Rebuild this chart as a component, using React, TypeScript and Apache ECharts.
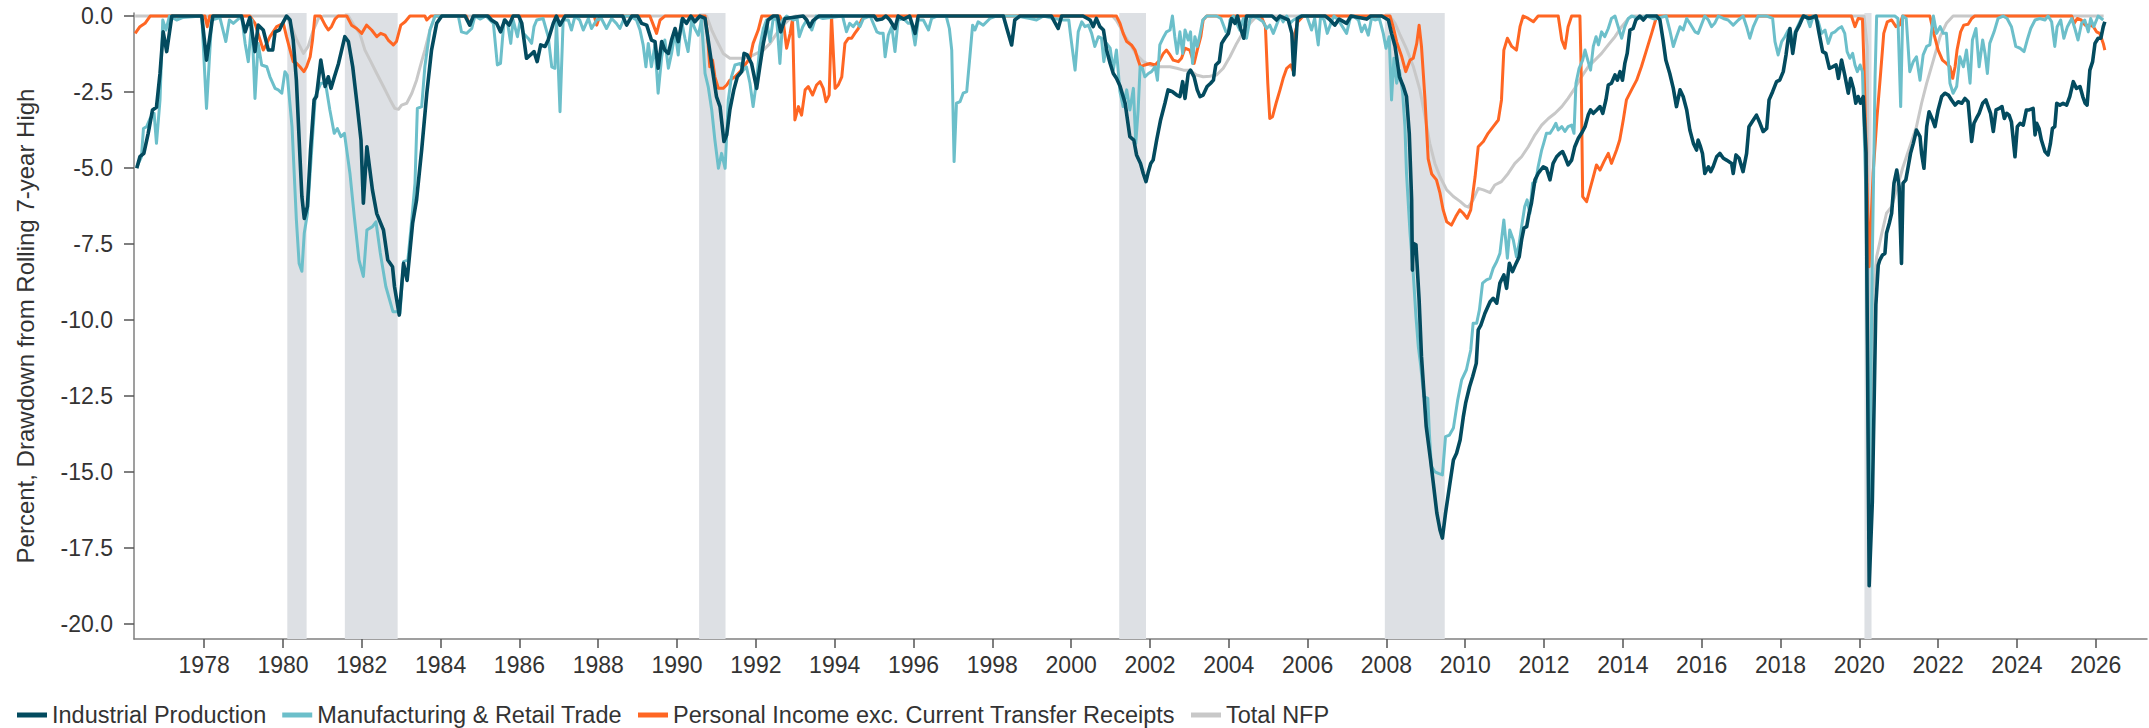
import React, { useEffect, useRef } from "react";
import * as echarts from "echarts";

// ---- Data: [decimal year, percent drawdown from rolling 7-year high] ----
const industrialProduction: [number, number][] = [
  [1976.29,-5.01],[1976.37,-4.63],[1976.47,-4.52],[1976.58,-3.86],[1976.69,-3.09],[1976.79,-3.0],[1976.88,-1.89],[1976.96,-0.52],[1977.05,-1.17],[1977.18,0],
  [1977.94,0],[1978.06,-1.45],[1978.22,0],[1978.95,0],[1979.04,-0.52],[1979.16,-0.05],[1979.29,-1.17],[1979.37,-0.3],[1979.5,-0.46],[1979.63,-1.12],
  [1979.74,-1.12],[1979.8,-0.52],[1979.91,-0.46],[1979.99,-0.24],[1980.09,0],[1980.18,-0.13],[1980.26,-0.79],[1980.34,-2.1],[1980.43,-4.6],[1980.48,-5.94],
  [1980.54,-6.66],[1980.62,-6.27],[1980.7,-4.4],[1980.79,-2.76],[1980.85,-2.65],[1980.96,-1.45],[1981.07,-2.32],[1981.15,-2.0],[1981.22,-2.38],[1981.3,-2.02],
  [1981.41,-1.56],[1981.57,-0.68],[1981.66,-0.84],[1981.77,-1.67],[1981.88,-2.9],[1981.98,-4.08],[1982.04,-6.16],[1982.13,-4.3],[1982.27,-5.72],[1982.38,-6.5],
  [1982.55,-7.04],[1982.66,-8.03],[1982.78,-8.25],[1982.83,-8.9],[1982.95,-9.84],[1983.06,-8.14],[1983.15,-8.7],[1983.29,-6.82],[1983.39,-6.05],[1983.52,-4.4],
  [1983.65,-2.54],[1983.77,-1.12],[1983.9,-0.24],[1984.03,0],[1984.62,0],[1984.74,-0.3],[1984.83,0],[1985.2,0],[1985.29,-0.13],[1985.42,-0.24],
  [1985.52,-0.52],[1985.63,-0.13],[1985.74,-0.3],[1985.84,0],[1985.98,0],[1986.06,-0.24],[1986.18,-1.39],[1986.28,-1.28],[1986.37,-1.17],[1986.45,-1.5],
  [1986.54,-0.95],[1986.65,-1.0],[1986.73,-0.79],[1986.86,-0.24],[1986.94,0],[1987.03,-0.3],[1987.16,0],[1988.62,0],[1988.72,-0.3],[1988.85,0],
  [1989.0,0],[1989.1,-0.24],[1989.23,-0.3],[1989.35,-0.79],[1989.44,-0.84],[1989.52,-1.72],[1989.61,-0.84],[1989.69,-1.12],[1989.78,-1.23],[1989.86,-0.79],
  [1989.95,-0.41],[1990.03,-0.84],[1990.14,-0.08],[1990.24,-0.24],[1990.35,0],[1990.45,-0.19],[1990.58,0],[1990.71,-0.08],[1990.79,-0.79],[1990.9,-1.78],
  [1991.0,-2.65],[1991.09,-2.98],[1991.19,-4.13],[1991.26,-3.91],[1991.34,-3.09],[1991.44,-2.43],[1991.53,-2.0],[1991.64,-1.83],[1991.7,-1.23],[1991.78,-1.28],
  [1991.89,-1.56],[1992.02,-2.38],[1992.1,-1.67],[1992.19,-0.9],[1992.31,-0.13],[1992.44,0],[1992.55,0],[1992.63,-0.52],[1992.74,-0.08],[1993.2,0],
  [1993.29,-0.13],[1993.37,-0.35],[1993.45,-0.15],[1993.6,0],[1995.0,0],[1995.07,-0.13],[1995.2,-0.1],[1995.3,0],[1995.4,-0.13],[1995.53,-0.41],
  [1995.61,0],[1995.75,-0.1],[1995.9,0],[1996.04,-0.57],[1996.12,0],[1998.28,0],[1998.38,-0.46],[1998.49,-0.95],[1998.57,-0.13],[1998.7,0],
  [1999.5,0],[1999.67,-0.41],[1999.76,0],[2000.3,0],[2000.48,-0.13],[2000.56,-0.35],[2000.64,-0.08],[2000.73,-0.35],[2000.82,-0.46],[2000.9,-1.12],
  [2000.99,-1.56],[2001.07,-1.89],[2001.15,-2.05],[2001.24,-2.3],[2001.37,-2.87],[2001.49,-3.97],[2001.59,-4.08],[2001.66,-4.57],[2001.76,-4.85],[2001.83,-5.18],
  [2001.9,-5.45],[2001.96,-5.12],[2002.02,-4.85],[2002.08,-4.74],[2002.17,-4.08],[2002.27,-3.42],[2002.38,-2.87],[2002.46,-2.43],[2002.57,-2.49],[2002.68,-2.6],
  [2002.76,-2.65],[2002.83,-2.16],[2002.89,-2.71],[2002.97,-1.89],[2003.03,-1.78],[2003.12,-2.0],[2003.2,-2.43],[2003.27,-2.65],[2003.35,-2.6],[2003.45,-2.32],
  [2003.54,-2.21],[2003.61,-2.11],[2003.67,-1.61],[2003.76,-1.5],[2003.82,-0.9],[2003.9,-0.73],[2003.99,-0.57],[2004.07,-0.08],[2004.16,-0.24],[2004.22,0],
  [2004.3,-0.41],[2004.38,-0.73],[2004.45,0],[2005.1,0],[2005.21,-0.13],[2005.3,0],[2005.51,-0.13],[2005.6,-0.57],[2005.65,-1.94],[2005.74,-0.08],
  [2005.85,0],[2006.45,0],[2006.57,-0.13],[2006.69,-0.3],[2006.8,-0.1],[2006.99,-0.24],[2007.1,0],[2007.5,-0.1],[2007.6,0],[2007.88,0],
  [2008.05,-0.13],[2008.13,-0.57],[2008.22,-1.0],[2008.33,-2.0],[2008.43,-2.32],[2008.51,-2.65],[2008.58,-3.86],[2008.64,-6.05],[2008.66,-8.36],[2008.68,-7.48],
  [2008.75,-7.53],[2008.83,-9.34],[2008.89,-11.2],[2009.01,-13.51],[2009.12,-14.61],[2009.19,-15.37],[2009.28,-16.36],[2009.36,-16.91],[2009.42,-17.18],[2009.5,-16.36],
  [2009.6,-15.48],[2009.7,-14.61],[2009.78,-14.39],[2009.87,-13.95],[2009.95,-13.2],[2010.01,-12.74],[2010.11,-12.2],[2010.19,-11.86],[2010.28,-11.43],[2010.33,-10.33],
  [2010.4,-10.16],[2010.5,-9.78],[2010.63,-9.4],[2010.71,-9.29],[2010.8,-9.45],[2010.88,-8.79],[2010.98,-8.52],[2011.05,-8.96],[2011.12,-8.14],[2011.2,-8.41],
  [2011.29,-8.14],[2011.37,-7.92],[2011.43,-7.37],[2011.49,-6.98],[2011.56,-6.93],[2011.62,-6.49],[2011.68,-6.16],[2011.77,-5.39],[2011.85,-5.18],[2011.98,-4.96],
  [2012.06,-5.01],[2012.15,-5.39],[2012.23,-4.85],[2012.32,-4.63],[2012.4,-4.52],[2012.47,-4.46],[2012.53,-4.63],[2012.61,-4.9],[2012.7,-4.74],[2012.78,-4.3],
  [2012.87,-4.02],[2012.95,-3.86],[2013.04,-3.64],[2013.12,-3.26],[2013.18,-3.09],[2013.25,-3.2],[2013.33,-3.1],[2013.42,-2.98],[2013.49,-3.2],[2013.57,-2.76],
  [2013.63,-2.27],[2013.71,-2.21],[2013.8,-1.94],[2013.86,-2.11],[2013.93,-1.83],[2013.99,-2.11],[2014.05,-1.56],[2014.11,-1.23],[2014.18,-0.46],[2014.26,-0.41],
  [2014.33,-0.13],[2014.43,0],[2014.52,-0.13],[2014.6,0],[2014.86,0],[2014.94,-0.13],[2015.02,-0.79],[2015.09,-1.45],[2015.19,-1.89],[2015.28,-2.38],
  [2015.36,-2.98],[2015.45,-2.43],[2015.53,-2.65],[2015.62,-3.09],[2015.7,-3.75],[2015.79,-4.19],[2015.87,-4.41],[2015.91,-4.08],[2015.97,-4.3],[2016.02,-4.52],
  [2016.08,-5.18],[2016.17,-4.96],[2016.23,-5.12],[2016.29,-4.96],[2016.38,-4.63],[2016.46,-4.52],[2016.55,-4.68],[2016.63,-4.74],[2016.76,-4.85],[2016.8,-5.18],
  [2016.87,-4.57],[2016.95,-4.68],[2017.05,-5.12],[2017.14,-4.52],[2017.2,-3.64],[2017.31,-3.42],[2017.39,-3.26],[2017.48,-3.53],[2017.56,-3.8],[2017.65,-3.7],
  [2017.71,-2.76],[2017.8,-2.49],[2017.9,-2.16],[2017.98,-2.11],[2018.07,-1.83],[2018.14,-1.28],[2018.2,-0.68],[2018.24,-0.41],[2018.31,-1.23],[2018.39,-0.52],
  [2018.48,-0.3],[2018.58,0],[2018.73,-0.08],[2018.9,0],[2018.98,-0.57],[2019.07,-1.17],[2019.15,-1.23],[2019.24,-1.72],[2019.32,-1.67],[2019.41,-1.61],
  [2019.47,-2.05],[2019.55,-1.45],[2019.63,-1.94],[2019.72,-2.54],[2019.78,-2.05],[2019.85,-2.38],[2019.91,-2.87],[2019.97,-2.65],[2020.03,-2.87],[2020.1,-2.65],
  [2020.17,-4.5],[2020.25,-18.75],[2020.33,-16.0],[2020.42,-9.5],[2020.48,-8.2],[2020.52,-8.03],[2020.59,-7.86],[2020.65,-7.81],[2020.69,-7.15],[2020.76,-6.82],
  [2020.82,-6.49],[2020.88,-5.5],[2020.95,-5.07],[2021.01,-5.61],[2021.07,-8.14],[2021.11,-5.5],[2021.18,-5.39],[2021.24,-4.96],[2021.3,-4.52],[2021.37,-4.19],
  [2021.45,-3.75],[2021.54,-3.97],[2021.58,-4.52],[2021.64,-5.01],[2021.71,-3.64],[2021.77,-3.15],[2021.86,-3.42],[2021.92,-3.64],[2022.0,-3.09],[2022.09,-2.65],
  [2022.17,-2.54],[2022.26,-2.6],[2022.34,-2.76],[2022.43,-2.93],[2022.51,-2.82],[2022.6,-2.87],[2022.68,-2.71],[2022.76,-2.82],[2022.85,-4.13],[2022.91,-3.53],
  [2022.97,-3.37],[2023.04,-3.2],[2023.13,-2.87],[2023.21,-2.76],[2023.27,-2.98],[2023.33,-3.2],[2023.4,-3.8],[2023.47,-3.09],[2023.55,-3.04],[2023.62,-2.98],
  [2023.68,-3.37],[2023.74,-3.2],[2023.8,-3.26],[2023.86,-3.48],[2023.95,-4.63],[2024.01,-3.64],[2024.08,-3.53],[2024.16,-3.59],[2024.24,-3.09],[2024.31,-3.09],
  [2024.41,-3.04],[2024.46,-3.91],[2024.5,-3.53],[2024.56,-3.7],[2024.62,-4.08],[2024.71,-4.46],[2024.79,-4.57],[2024.85,-4.19],[2024.9,-3.7],[2024.96,-3.64],
  [2025.01,-2.87],[2025.09,-2.93],[2025.17,-2.87],[2025.26,-2.93],[2025.34,-2.65],[2025.43,-2.16],[2025.51,-2.38],[2025.6,-2.32],[2025.67,-2.65],[2025.73,-2.87],
  [2025.78,-2.93],[2025.85,-1.78],[2025.92,-1.5],[2025.98,-0.9],[2026.06,-0.73],[2026.13,-0.73],[2026.19,-0.35],[2026.23,-0.19]
];

const manufacturingRetail: [number, number][] = [
  [1976.29,-4.96],[1976.41,-4.63],[1976.46,-3.7],[1976.54,-3.64],[1976.63,-3.37],[1976.73,-3.2],[1976.79,-4.19],[1976.88,-2.76],[1976.95,-0.13],[1977.03,-0.46],
  [1977.12,0],[1977.3,-0.13],[1977.45,-0.05],[1977.94,0],[1978.06,-3.04],[1978.19,-0.13],[1978.4,-0.05],[1978.55,-0.84],[1978.64,-0.13],[1978.74,-0.24],
  [1978.95,0],[1979.04,-0.9],[1979.12,-1.5],[1979.21,-0.13],[1979.29,-2.71],[1979.37,-0.9],[1979.46,-1.61],[1979.59,-1.67],[1979.67,-2.0],[1979.8,-2.38],
  [1979.88,-2.43],[1979.97,-2.54],[1980.05,-1.83],[1980.11,-1.95],[1980.23,-3.64],[1980.34,-6.7],[1980.41,-8.14],[1980.48,-8.4],[1980.54,-7.15],[1980.62,-6.5],
  [1980.74,-4.19],[1980.82,-2.65],[1980.96,-2.21],[1981.08,-2.21],[1981.19,-3.09],[1981.3,-3.86],[1981.38,-3.7],[1981.47,-3.97],[1981.56,-3.86],[1981.7,-5.18],
  [1981.81,-6.6],[1981.93,-8.03],[1982.04,-8.57],[1982.13,-7.04],[1982.27,-6.93],[1982.36,-6.77],[1982.47,-7.8],[1982.61,-8.9],[1982.79,-9.73],[1982.89,-9.73],
  [1982.97,-9.78],[1983.06,-8.08],[1983.17,-8.03],[1983.26,-6.82],[1983.35,-5.5],[1983.41,-3.04],[1983.52,-2.98],[1983.6,-1.67],[1983.73,-0.46],[1983.86,0],
  [1984.45,0],[1984.53,-0.52],[1984.66,-0.57],[1984.79,-0.41],[1984.87,0],[1985.0,-0.1],[1985.15,0],[1985.34,-0.24],[1985.44,-1.61],[1985.52,-1.56],
  [1985.61,-0.13],[1985.7,-0.24],[1985.78,-0.9],[1985.84,-0.13],[1985.95,-0.68],[1986.02,-0.13],[1986.1,-0.57],[1986.22,-0.73],[1986.31,-0.9],[1986.37,-0.35],
  [1986.44,-0.13],[1986.6,-0.08],[1986.73,-0.68],[1986.82,-1.67],[1986.9,-1.72],[1986.94,-0.13],[1987.03,-3.15],[1987.11,-0.13],[1987.24,-0.13],[1987.32,-0.46],
  [1987.41,0],[1987.53,-0.13],[1987.62,-0.46],[1987.75,-0.08],[1987.83,-0.41],[1987.96,-0.13],[1988.08,-0.08],[1988.21,-0.41],[1988.34,-0.08],[1988.46,-0.24],
  [1988.55,-0.41],[1988.68,0],[1988.8,0],[1988.97,-0.13],[1989.06,-0.46],[1989.14,-0.95],[1989.21,-1.67],[1989.27,-0.9],[1989.35,-1.67],[1989.44,-0.95],
  [1989.52,-2.54],[1989.61,-1.34],[1989.69,-0.79],[1989.78,-1.72],[1989.86,-1.23],[1989.95,-0.52],[1990.03,-1.28],[1990.11,-0.13],[1990.2,-0.73],[1990.28,-1.17],
  [1990.37,-0.13],[1990.45,-0.41],[1990.54,-0.63],[1990.62,-0.13],[1990.71,-1.89],[1990.79,-2.32],[1990.88,-3.09],[1990.96,-4.08],[1991.05,-5.01],[1991.13,-4.52],
  [1991.22,-5.01],[1991.3,-2.76],[1991.38,-2.0],[1991.47,-1.61],[1991.6,-1.56],[1991.68,-1.78],[1991.76,-1.67],[1991.85,-2.21],[1991.93,-2.98],[1992.02,-2.11],
  [1992.1,-1.0],[1992.19,-0.41],[1992.27,-0.13],[1992.36,-0.84],[1992.44,-0.08],[1992.53,-0.13],[1992.61,-1.56],[1992.68,-0.13],[1992.78,0],[1992.95,-0.13],
  [1993.05,-0.1],[1993.1,-0.68],[1993.19,-0.35],[1993.29,-0.13],[1993.42,-0.46],[1993.53,0],[1993.7,-0.08],[1994.2,0],[1994.3,-0.52],[1994.38,-0.24],
  [1994.47,-0.35],[1994.56,-0.19],[1994.64,-0.35],[1994.73,-0.08],[1994.9,0],[1995.07,-0.52],[1995.15,-0.57],[1995.23,-0.57],[1995.28,-1.34],[1995.36,-0.63],
  [1995.45,-0.35],[1995.53,-1.17],[1995.61,-0.13],[1995.74,-0.08],[1995.87,-0.24],[1995.95,-0.24],[1996.04,-0.95],[1996.12,-0.13],[1996.25,-0.13],[1996.38,-0.46],
  [1996.46,-0.08],[1996.6,0],[1996.83,0],[1996.91,-0.41],[1996.97,-1.12],[1997.03,-4.79],[1997.09,-2.87],[1997.18,-2.82],[1997.26,-2.54],[1997.35,-2.49],
  [1997.43,-1.34],[1997.5,-0.3],[1997.56,-0.46],[1997.64,-0.19],[1997.77,-0.3],[1997.94,-0.08],[1998.1,0],[1998.6,0],[1998.96,-0.08],[1999.12,-0.13],
  [1999.3,0],[1999.55,-0.08],[1999.8,-0.13],[1999.94,-0.13],[1999.98,-0.57],[2000.1,-1.78],[2000.18,-0.52],[2000.27,-0.19],[2000.35,-0.35],[2000.44,-0.3],
  [2000.52,-0.57],[2000.6,-1.0],[2000.69,-0.68],[2000.77,-0.73],[2000.83,-1.5],[2000.9,-0.9],[2000.99,-1.06],[2001.07,-1.78],[2001.15,-1.12],[2001.24,-2.5],
  [2001.32,-2.98],[2001.41,-2.43],[2001.49,-3.09],[2001.58,-2.38],[2001.64,-4.19],[2001.7,-3.09],[2001.75,-1.67],[2001.81,-1.72],[2001.87,-2.0],[2001.96,-1.89],
  [2002.04,-1.83],[2002.13,-1.67],[2002.19,-2.11],[2002.25,-0.95],[2002.35,-0.68],[2002.42,-0.52],[2002.51,-0.46],[2002.57,0],[2002.63,-0.68],[2002.69,-1.23],
  [2002.76,-0.52],[2002.83,-1.23],[2002.89,-0.46],[2002.97,-0.79],[2003.03,-0.52],[2003.08,-1.56],[2003.14,-0.68],[2003.2,-1.0],[2003.25,-0.73],[2003.34,-0.13],
  [2003.44,0],[2003.69,0],[2003.8,-0.08],[2003.93,-0.52],[2003.99,-0.57],[2004.03,-0.13],[2004.12,0],[2004.2,-0.24],[2004.28,-0.46],[2004.37,-0.08],
  [2004.45,-0.73],[2004.54,-0.08],[2004.62,0],[2004.75,-0.08],[2004.87,-0.19],[2004.96,-0.41],[2005.04,-0.3],[2005.13,-0.57],[2005.21,-0.3],[2005.3,0],
  [2005.38,-0.19],[2005.47,0],[2005.55,-0.24],[2005.64,-0.13],[2005.72,-0.08],[2005.8,0],[2005.98,0],[2006.1,-0.46],[2006.18,-0.08],[2006.27,-0.95],
  [2006.33,0],[2006.42,-0.13],[2006.5,-0.57],[2006.59,-0.24],[2006.67,0],[2006.78,-0.13],[2006.86,-0.3],[2006.99,-0.57],[2007.08,-0.08],[2007.16,0],
  [2007.29,-0.13],[2007.37,-0.52],[2007.45,-0.3],[2007.54,-0.63],[2007.62,-0.08],[2007.71,-0.13],[2007.82,-0.08],[2007.92,-0.57],[2007.99,-1.06],[2008.07,-0.68],
  [2008.13,-2.76],[2008.19,-1.39],[2008.26,-2.21],[2008.33,-1.78],[2008.41,-2.49],[2008.47,-3.64],[2008.51,-5.18],[2008.6,-7.15],[2008.68,-8.46],[2008.75,-9.89],
  [2008.81,-10.88],[2008.87,-11.5],[2008.95,-12.52],[2009.05,-12.58],[2009.09,-13.73],[2009.14,-14.82],[2009.23,-15.0],[2009.32,-15.05],[2009.42,-15.1],[2009.5,-13.84],
  [2009.6,-13.79],[2009.7,-13.56],[2009.81,-12.63],[2009.91,-11.97],[2010.03,-11.64],[2010.14,-10.99],[2010.2,-10.11],[2010.29,-10.11],[2010.36,-9.67],[2010.44,-8.79],
  [2010.54,-8.68],[2010.63,-8.63],[2010.71,-8.3],[2010.8,-8.08],[2010.88,-7.81],[2010.98,-6.71],[2011.07,-7.97],[2011.13,-7.04],[2011.22,-7.37],[2011.3,-7.92],
  [2011.37,-7.48],[2011.43,-6.93],[2011.51,-6.27],[2011.57,-6.05],[2011.64,-6.49],[2011.71,-5.5],[2011.79,-5.45],[2011.85,-4.96],[2011.94,-4.41],[2011.99,-4.19],
  [2012.06,-3.86],[2012.15,-3.86],[2012.23,-3.7],[2012.3,-3.53],[2012.36,-3.75],[2012.45,-3.64],[2012.53,-3.8],[2012.61,-3.64],[2012.7,-3.59],[2012.76,-3.86],
  [2012.81,-2.21],[2012.89,-1.72],[2012.98,-1.45],[2013.04,-1.12],[2013.12,-1.5],[2013.18,-1.78],[2013.25,-1.0],[2013.32,-0.68],[2013.38,-0.95],[2013.46,-0.52],
  [2013.54,-0.68],[2013.63,-0.41],[2013.71,-0.08],[2013.8,0],[2013.88,-0.35],[2013.97,-0.73],[2014.05,-0.35],[2014.14,-0.08],[2014.22,0],[2014.4,-0.08],
  [2014.6,0],[2014.8,-0.1],[2015.1,0],[2015.19,-0.46],[2015.28,-1.0],[2015.36,-0.68],[2015.45,-0.35],[2015.53,-0.46],[2015.62,-0.08],[2015.7,-0.24],
  [2015.83,-0.52],[2015.91,-0.57],[2015.99,-0.3],[2016.08,0],[2016.17,-0.13],[2016.25,-0.35],[2016.33,-0.24],[2016.42,0],[2016.55,-0.08],[2016.67,-0.13],
  [2016.8,-0.3],[2016.93,-0.13],[2017.05,0],[2017.14,-0.35],[2017.22,-0.73],[2017.31,-0.35],[2017.43,0],[2017.65,0],[2017.8,-0.08],[2017.86,-0.84],
  [2017.94,-1.28],[2018.03,-0.84],[2018.11,-0.68],[2018.2,-0.46],[2018.28,-1.0],[2018.37,-0.52],[2018.45,-0.3],[2018.53,-0.08],[2018.66,0],[2018.75,-0.35],
  [2018.83,0],[2018.96,-0.19],[2019.04,-0.57],[2019.13,-0.46],[2019.21,-0.9],[2019.3,-0.57],[2019.38,-0.52],[2019.47,-0.41],[2019.55,-0.35],[2019.63,-0.57],
  [2019.69,-1.17],[2019.76,-1.39],[2019.83,-1.23],[2019.89,-1.61],[2019.95,-1.83],[2020.02,-1.61],[2020.08,-1.83],[2020.17,-6.0],[2020.25,-16.5],[2020.33,-8.0],
  [2020.4,-2.0],[2020.44,0],[2020.9,0],[2020.98,-0.08],[2021.05,-2.98],[2021.1,0],[2021.19,-0.08],[2021.28,-1.83],[2021.37,-1.5],[2021.45,-1.34],
  [2021.54,-2.11],[2021.62,-1.28],[2021.71,-1.0],[2021.79,-0.95],[2021.88,0],[2021.96,-0.57],[2022.05,-0.35],[2022.13,-0.57],[2022.21,-0.57],[2022.3,-2.21],
  [2022.38,-2.54],[2022.47,-2.32],[2022.55,-1.34],[2022.64,-1.67],[2022.72,-1.12],[2022.81,-2.21],[2022.87,-0.79],[2022.96,-0.41],[2023.04,-1.67],[2023.13,-0.79],
  [2023.19,-1.23],[2023.25,-1.89],[2023.31,-0.9],[2023.42,-0.52],[2023.52,-0.08],[2023.65,0],[2023.75,-0.08],[2023.86,-0.35],[2023.97,-1.0],[2024.08,-1.06],
  [2024.18,-1.17],[2024.26,-0.79],[2024.35,-0.41],[2024.46,-0.13],[2024.58,-0.08],[2024.71,-0.13],[2024.79,0],[2024.88,-0.19],[2024.96,-1.0],[2025.02,-0.35],
  [2025.11,-0.13],[2025.19,-0.73],[2025.28,-0.35],[2025.39,-0.08],[2025.47,-0.41],[2025.55,-0.79],[2025.64,-0.24],[2025.72,-0.13],[2025.81,-0.52],[2025.87,-0.08],
  [2025.95,-0.35],[2026.06,0],[2026.19,-0.13]
];

const personalIncome: [number, number][] = [
  [1976.25,-0.57],[1976.37,-0.35],[1976.5,-0.24],[1976.63,0],[1978.02,0],[1978.08,-0.35],[1978.14,0],[1979.16,0],[1979.29,-0.24],[1979.42,-0.79],
  [1979.5,-1.12],[1979.59,-0.9],[1979.67,-0.68],[1979.84,-0.35],[1980.01,-0.24],[1980.09,-0.68],[1980.18,-1.12],[1980.26,-1.5],[1980.35,-1.56],[1980.43,-1.67],
  [1980.53,-1.83],[1980.6,-1.67],[1980.69,-1.34],[1980.75,-0.79],[1980.81,0],[1980.95,0],[1981.07,-0.3],[1981.15,-0.46],[1981.23,-0.35],[1981.32,-0.1],
  [1981.4,0],[1981.62,0],[1981.74,-0.3],[1981.87,-0.41],[1982.0,-0.57],[1982.12,-0.3],[1982.25,-0.46],[1982.38,-0.68],[1982.48,-0.57],[1982.59,-0.63],
  [1982.67,-0.79],[1982.8,-0.95],[1982.88,-0.84],[1982.99,-0.3],[1983.1,-0.19],[1983.22,0],[1983.6,0],[1983.65,-0.13],[1983.75,0],[1984.65,0],
  [1984.74,-0.3],[1984.83,0],[1987.9,0],[1987.96,-0.3],[1988.04,0],[1989.31,0],[1989.4,-0.3],[1989.48,-0.57],[1989.57,-0.13],[1989.69,0],
  [1990.71,0],[1990.77,-0.57],[1990.83,-1.67],[1990.9,-1.45],[1990.96,-2.0],[1991.05,-2.38],[1991.17,-2.38],[1991.26,-2.27],[1991.34,-2.11],[1991.47,-2.0],
  [1991.6,-1.83],[1991.72,-1.61],[1991.85,-1.39],[1991.93,-0.9],[1992.06,-0.46],[1992.15,0],[1992.61,0],[1992.7,-0.24],[1992.78,-1.06],[1992.87,-0.57],
  [1992.93,-0.1],[1992.99,-3.42],[1993.08,-2.98],[1993.16,-3.26],[1993.25,-2.43],[1993.33,-2.32],[1993.44,-2.6],[1993.54,-2.27],[1993.63,-2.16],[1993.71,-2.38],
  [1993.78,-2.82],[1993.86,-2.6],[1993.92,0],[1994.01,-2.38],[1994.09,-2.27],[1994.18,-2.0],[1994.26,-0.9],[1994.35,-0.73],[1994.43,-0.73],[1994.51,-0.57],
  [1994.6,-0.41],[1994.68,-0.13],[1994.77,0],[2001.15,0],[2001.24,-0.24],[2001.32,-0.57],[2001.41,-0.84],[2001.53,-0.95],[2001.62,-1.12],[2001.7,-1.45],
  [2001.76,-1.67],[2001.87,-1.61],[2002.0,-1.56],[2002.13,-1.61],[2002.25,-1.45],[2002.34,-1.23],[2002.42,-1.12],[2002.51,-1.28],[2002.59,-1.45],[2002.72,-1.5],
  [2002.8,-1.39],[2002.89,-1.06],[2003.01,-1.12],[2003.12,-1.56],[2003.2,-1.12],[2003.29,-0.68],[2003.35,-0.13],[2003.44,0],[2004.82,0],[2004.93,-0.35],
  [2004.99,-2.21],[2005.04,-3.37],[2005.11,-3.31],[2005.2,-2.87],[2005.3,-2.43],[2005.38,-2.05],[2005.47,-1.72],[2005.57,-1.61],[2005.63,-1.8],[2005.68,-0.57],
  [2005.75,-0.2],[2005.89,0],[2008.09,0],[2008.17,-0.35],[2008.26,-0.85],[2008.39,-1.34],[2008.49,-1.83],[2008.6,-1.45],[2008.68,-1.39],[2008.77,-0.9],
  [2008.83,-0.3],[2008.89,-1.0],[2008.98,-2.76],[2009.06,-4.7],[2009.15,-5.2],[2009.27,-5.39],[2009.36,-5.83],[2009.44,-6.38],[2009.53,-6.77],[2009.65,-6.88],
  [2009.76,-6.6],[2009.86,-6.38],[2009.95,-6.49],[2010.05,-6.66],[2010.14,-6.38],[2010.25,-5.29],[2010.33,-4.3],[2010.46,-4.13],[2010.58,-3.86],[2010.71,-3.64],
  [2010.84,-3.42],[2010.92,-2.76],[2010.98,-1.12],[2011.07,-0.73],[2011.18,-1.0],[2011.3,-1.12],[2011.39,-0.35],[2011.47,0],[2011.6,-0.08],[2011.73,-0.19],
  [2011.85,0],[2012.36,0],[2012.45,-0.79],[2012.53,-1.06],[2012.61,-0.35],[2012.7,0],[2012.91,0],[2012.94,-1.67],[2012.98,-5.94],[2013.08,-6.11],
  [2013.16,-5.72],[2013.25,-5.29],[2013.33,-4.9],[2013.42,-5.07],[2013.52,-4.79],[2013.63,-4.52],[2013.71,-4.85],[2013.84,-4.41],[2013.92,-4.08],[2014.01,-3.42],
  [2014.09,-2.76],[2014.22,-2.43],[2014.35,-2.11],[2014.47,-1.67],[2014.6,-1.12],[2014.73,-0.57],[2014.86,0],[2019.8,0],[2019.89,-0.35],[2019.97,-0.08],
  [2020.08,-0.1],[2020.12,-1.67],[2020.18,-4.74],[2020.25,-8.25],[2020.35,-5.18],[2020.45,-3.31],[2020.54,-1.89],[2020.62,-0.57],[2020.71,-0.19],[2020.82,-0.13],
  [2020.93,-0.35],[2021.02,-0.3],[2021.1,0],[2021.79,0],[2021.89,-0.57],[2022.0,-1.12],[2022.11,-1.45],[2022.21,-1.56],[2022.3,-1.67],[2022.37,-2.05],
  [2022.43,-1.67],[2022.48,-1.12],[2022.57,-0.52],[2022.65,-0.3],[2022.76,-0.27],[2022.85,-0.08],[2022.93,0],[2025.39,0],[2025.45,-0.24],[2025.53,-0.08],
  [2025.63,-0.13],[2025.73,-0.3],[2025.85,-0.3],[2025.94,-0.35],[2026.02,-0.52],[2026.1,-0.57],[2026.19,-0.9],[2026.23,-1.12]
];

const totalNFP: [number, number][] = [
  [1976.25,0],[1980.09,0],[1980.22,-0.35],[1980.35,-0.79],[1980.52,-1.23],[1980.64,-1.0],[1980.77,-0.46],[1980.9,-0.08],[1981.02,0],[1981.66,0],
  [1981.8,-0.3],[1981.95,-0.57],[1982.08,-1.12],[1982.21,-1.45],[1982.38,-1.89],[1982.55,-2.32],[1982.72,-2.76],[1982.84,-3.04],[1982.93,-3.07],[1983.01,-2.93],
  [1983.14,-2.87],[1983.27,-2.54],[1983.39,-2.11],[1983.48,-1.67],[1983.6,-1.12],[1983.73,-0.46],[1983.86,0],[1990.75,0],[1990.88,-0.46],[1991.0,-0.79],
  [1991.17,-1.23],[1991.34,-1.39],[1991.51,-1.39],[1991.68,-1.39],[1991.85,-1.34],[1992.02,-1.23],[1992.19,-1.12],[1992.36,-0.9],[1992.53,-0.57],[1992.7,-0.3],
  [1992.87,-0.08],[1993.0,0],[2001.05,0],[2001.15,-0.15],[2001.24,-0.35],[2001.37,-0.68],[2001.49,-0.9],[2001.66,-1.28],[2001.83,-1.5],[2002.0,-1.61],
  [2002.17,-1.67],[2002.34,-1.67],[2002.51,-1.67],[2002.68,-1.72],[2002.85,-1.78],[2003.01,-1.78],[2003.18,-1.94],[2003.35,-2.0],[2003.52,-1.98],[2003.69,-1.94],
  [2003.86,-1.72],[2004.03,-1.34],[2004.2,-0.9],[2004.37,-0.52],[2004.54,-0.24],[2004.71,0],[2008.09,0],[2008.22,-0.24],[2008.34,-0.6],[2008.51,-1.08],
  [2008.68,-1.65],[2008.85,-2.43],[2008.98,-3.31],[2009.1,-4.19],[2009.23,-4.85],[2009.36,-5.29],[2009.53,-5.72],[2009.7,-5.94],[2009.87,-6.1],[2010.0,-6.25],
  [2010.08,-6.29],[2010.2,-6.05],[2010.33,-5.67],[2010.46,-5.72],[2010.63,-5.81],[2010.75,-5.56],[2010.92,-5.45],[2011.09,-5.18],[2011.26,-4.85],[2011.43,-4.63],
  [2011.6,-4.3],[2011.77,-3.91],[2011.94,-3.59],[2012.11,-3.37],[2012.28,-3.2],[2012.45,-2.98],[2012.61,-2.71],[2012.78,-2.38],[2012.95,-2.0],[2013.12,-1.67],
  [2013.29,-1.45],[2013.46,-1.23],[2013.63,-0.95],[2013.8,-0.68],[2013.97,-0.35],[2014.14,-0.08],[2014.26,0],[2020.12,0],[2020.2,-1.0],[2020.27,-14.5],
  [2020.35,-9.12],[2020.44,-7.92],[2020.57,-7.15],[2020.69,-6.49],[2020.82,-6.27],[2020.95,-5.7],[2021.1,-5.0],[2021.28,-4.3],[2021.45,-3.64],[2021.58,-2.87],
  [2021.71,-2.21],[2021.88,-1.45],[2022.05,-0.68],[2022.21,-0.24],[2022.38,0],[2026.2,0]
];

// Recession periods (decimal years)
const recessions: [number, number][] = [
  [1980.11, 1980.6],
  [1981.57, 1982.91],
  [1990.56, 1991.23],
  [2001.22, 2001.9],
  [2007.96, 2009.48],
  [2020.13, 2020.31],
];

const xTickYears: number[] = [1978,1980,1982,1984,1986,1988,1990,1992,1994,1996,1998,2000,2002,2004,2006,2008,2010,2012,2014,2016,2018,2020,2022,2024,2026];
const yTickValues: number[] = [0,-2.5,-5,-7.5,-10,-12.5,-15,-17.5,-20];

const seriesNames = [
  "Industrial Production",
  "Manufacturing & Retail Trade",
  "Personal Income exc. Current Transfer Receipts",
  "Total NFP",
];
const seriesColors = ["#034b5f", "#6cbfca", "#ff6623", "#c8c8c8"];

const FONT = "'Liberation Sans', Arial, Helvetica, sans-serif";
const TEXT_COLOR = "#333333";

export default function App() {
  const ref = useRef<HTMLDivElement>(null);

  useEffect(() => {
    if (!ref.current) return;
    const chart = echarts.init(ref.current, undefined, { renderer: "svg" });

    const lineSeries = (name: string, data: [number, number][], color: string, width: number, z: number, extra: any = {}) => ({
      name,
      type: "line",
      data,
      showSymbol: false,
      symbol: "none",
      z,
      lineStyle: { color, width, join: "round" },
      itemStyle: { color },
      emphasis: { disabled: true },
      ...extra,
    });

    const option: any = {
      animation: false,
      backgroundColor: "#ffffff",
      textStyle: { fontFamily: FONT },
      grid: { left: 134, right: 2, top: 13, bottom: 89, containLabel: false, outerBoundsMode: "none" },
      legend: {
        data: seriesNames,
        left: 12,
        top: 698,
        icon: "rect",
        itemWidth: 30,
        itemHeight: 5,
        itemGap: 16,
        textStyle: { fontFamily: FONT, fontSize: 23.5, color: TEXT_COLOR },
        selectedMode: false,
      },
      xAxis: {
        type: "value",
        min: 1976.22,
        max: 2027.3,
        splitLine: { show: false },
        axisLine: { show: true, onZero: false, lineStyle: { color: "#7f7f7f", width: 1.5 } },
        axisTick: { show: true, length: 9, customValues: xTickYears, lineStyle: { color: "#555555", width: 1.5 } },
        axisLabel: {
          customValues: xTickYears,
          formatter: (v: number) => String(Math.round(v)),
          fontFamily: FONT,
          fontSize: 23,
          color: TEXT_COLOR,
          margin: 14,
        },
      },
      yAxis: {
        type: "value",
        min: -20.5,
        max: 0.1,
        name: "Percent, Drawdown from Rolling 7-year High",
        nameLocation: "middle",
        nameGap: 97,
        nameTextStyle: { fontFamily: FONT, fontSize: 24, color: TEXT_COLOR },
        splitLine: { show: false },
        axisLine: { show: true, onZero: false, lineStyle: { color: "#7f7f7f", width: 1.5 } },
        axisTick: { show: true, length: 10, customValues: yTickValues, lineStyle: { color: "#555555", width: 1.5 } },
        axisLabel: {
          customValues: yTickValues,
          formatter: (v: number) => v.toFixed(1),
          fontFamily: FONT,
          fontSize: 23,
          color: TEXT_COLOR,
          margin: 21,
        },
      },
      series: [
        lineSeries(seriesNames[3], totalNFP, seriesColors[3], 3, 2, {
          markArea: {
            silent: true,
            z: 1,
            itemStyle: { color: "#dde0e4" },
            label: { show: false },
            data: recessions.map(([a, b]) => [{ xAxis: a }, { xAxis: b }]),
          },
        }),
        lineSeries(seriesNames[2], personalIncome, seriesColors[2], 3, 3),
        lineSeries(seriesNames[1], manufacturingRetail, seriesColors[1], 3, 4),
        lineSeries(seriesNames[0], industrialProduction, seriesColors[0], 3.6, 5),
      ],
    };

    chart.setOption(option);
    return () => {
      chart.dispose();
    };
  }, []);

  return (
    <div
      ref={ref}
      style={{ position: "absolute", left: 0, top: 0, width: 2149, height: 728, background: "#ffffff" }}
    />
  );
}
